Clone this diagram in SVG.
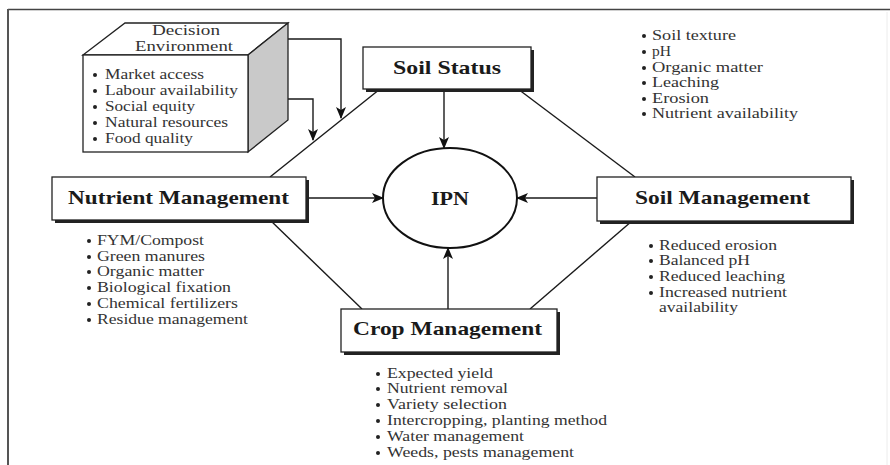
<svg xmlns="http://www.w3.org/2000/svg" width="890" height="465" viewBox="0 0 890 465">
<defs>
<marker id="arr" viewBox="0 0 12 10" refX="11" refY="5" markerWidth="12" markerHeight="10" markerUnits="userSpaceOnUse" orient="auto">
<path d="M0,0 L12,5 L0,10 L3,5 Z" fill="#111"/>
</marker>
</defs>
<style>
.ln{stroke:#1a1a1a;stroke-width:1.4;fill:none}
.box{fill:#fff;stroke:#222;stroke-width:1.3}
.sh{fill:#222}
.ttl{font-family:"Liberation Serif","Times New Roman",serif;font-weight:bold;font-size:19px;fill:#1a1a1a}
.li{font-family:"Liberation Serif","Times New Roman",serif;font-size:14px;fill:#333}
.hd{font-family:"Liberation Serif","Times New Roman",serif;font-size:15px;fill:#333}
.bu{fill:#222}
</style>
<rect width="890" height="465" fill="#fff"/>
<g id="frame">
<line x1="8" y1="9.5" x2="890" y2="9.5" stroke="#444" stroke-width="1.6"/>
<line x1="8" y1="9" x2="8" y2="465" stroke="#555" stroke-width="2"/>
<line x1="887" y1="12" x2="887" y2="465" stroke="#ececec" stroke-width="1"/>
</g>

<g id="connectors">
<line class="ln" x1="380" y1="89" x2="270" y2="177"/>
<line class="ln" x1="518" y1="89" x2="635" y2="177"/>
<line class="ln" x1="270" y1="220" x2="362" y2="309"/>
<line class="ln" x1="632" y1="221" x2="530" y2="309"/>
<line class="ln" x1="444" y1="89" x2="444" y2="148" marker-end="url(#arr)"/>
<line class="ln" x1="448" y1="309" x2="448" y2="248" marker-end="url(#arr)"/>
<line class="ln" x1="306" y1="198" x2="383" y2="198" marker-end="url(#arr)"/>
<line class="ln" x1="597" y1="198" x2="517" y2="198" marker-end="url(#arr)"/>
<path class="ln" d="M258,39 H341 V118" marker-end="url(#arr)"/>
<path class="ln" d="M232,99 H313 V140" marker-end="url(#arr)"/>
</g>

<g id="decision-environment">
<polygon points="83,55 125,23 288,23 248,55" fill="#fff" stroke="#222" stroke-width="1.3"/>
<polygon points="248,55 288,23 288,120 248,152" fill="#c9c9c9" stroke="#222" stroke-width="1.3"/>
<rect x="83" y="55" width="165" height="97" fill="#fff" stroke="#222" stroke-width="1.3"/>
<text class="hd" x="152" y="35" textLength="68" lengthAdjust="spacingAndGlyphs">Decision</text>
<text class="hd" x="135" y="51" textLength="98" lengthAdjust="spacingAndGlyphs">Environment</text>
<circle class="bu" cx="95" cy="75" r="2"/><text class="li" x="105" y="79" textLength="99" lengthAdjust="spacingAndGlyphs">Market access</text>
<circle class="bu" cx="95" cy="91" r="2"/><text class="li" x="105" y="95" textLength="133" lengthAdjust="spacingAndGlyphs">Labour availability</text>
<circle class="bu" cx="95" cy="107" r="2"/><text class="li" x="105" y="111" textLength="90" lengthAdjust="spacingAndGlyphs">Social equity</text>
<circle class="bu" cx="95" cy="123" r="2"/><text class="li" x="105" y="127" textLength="123" lengthAdjust="spacingAndGlyphs">Natural resources</text>
<circle class="bu" cx="95" cy="139" r="2"/><text class="li" x="105" y="143" textLength="88" lengthAdjust="spacingAndGlyphs">Food quality</text>
</g>

<g id="soil-status">
<rect class="sh" x="366" y="50" width="168" height="42"/>
<rect class="box" x="363" y="47" width="168" height="42"/>
<text class="ttl" x="393" y="74" textLength="108" lengthAdjust="spacingAndGlyphs">Soil Status</text>
</g>

<g id="soil-status-list">
<circle class="bu" cx="644" cy="36" r="2"/><text class="li" x="652" y="40" textLength="84" lengthAdjust="spacingAndGlyphs">Soil texture</text>
<circle class="bu" cx="644" cy="52" r="2"/><text class="li" x="652" y="56" textLength="19" lengthAdjust="spacingAndGlyphs">pH</text>
<circle class="bu" cx="644" cy="68" r="2"/><text class="li" x="652" y="72" textLength="111" lengthAdjust="spacingAndGlyphs">Organic matter</text>
<circle class="bu" cx="644" cy="83" r="2"/><text class="li" x="652" y="87" textLength="67" lengthAdjust="spacingAndGlyphs">Leaching</text>
<circle class="bu" cx="644" cy="99" r="2"/><text class="li" x="652" y="103" textLength="57" lengthAdjust="spacingAndGlyphs">Erosion</text>
<circle class="bu" cx="644" cy="114" r="2"/><text class="li" x="652" y="118" textLength="146" lengthAdjust="spacingAndGlyphs">Nutrient availability</text>
</g>

<g id="ipn">
<ellipse cx="450" cy="198" rx="67" ry="50" fill="#fff" stroke="#111" stroke-width="2"/>
<text class="ttl" x="450" y="205" text-anchor="middle" textLength="38" lengthAdjust="spacingAndGlyphs">IPN</text>
</g>

<g id="nutrient-management">
<rect class="sh" x="55" y="180" width="254" height="43"/>
<rect class="box" x="52" y="177" width="254" height="43"/>
<text class="ttl" x="68" y="204" textLength="221" lengthAdjust="spacingAndGlyphs">Nutrient Management</text>
</g>

<g id="nutrient-list">
<circle class="bu" cx="89" cy="241" r="2"/><text class="li" x="97" y="245" textLength="107" lengthAdjust="spacingAndGlyphs">FYM/Compost</text>
<circle class="bu" cx="89" cy="257" r="2"/><text class="li" x="97" y="261" textLength="108" lengthAdjust="spacingAndGlyphs">Green manures</text>
<circle class="bu" cx="89" cy="272" r="2"/><text class="li" x="97" y="276" textLength="107" lengthAdjust="spacingAndGlyphs">Organic matter</text>
<circle class="bu" cx="89" cy="288" r="2"/><text class="li" x="97" y="292" textLength="134" lengthAdjust="spacingAndGlyphs">Biological fixation</text>
<circle class="bu" cx="89" cy="304" r="2"/><text class="li" x="97" y="308" textLength="141" lengthAdjust="spacingAndGlyphs">Chemical fertilizers</text>
<circle class="bu" cx="89" cy="320" r="2"/><text class="li" x="97" y="324" textLength="151" lengthAdjust="spacingAndGlyphs">Residue management</text>
</g>

<g id="soil-management">
<rect class="sh" x="600" y="180" width="254" height="44"/>
<rect class="box" x="597" y="177" width="254" height="44"/>
<text class="ttl" x="635" y="204" textLength="175" lengthAdjust="spacingAndGlyphs">Soil Management</text>
</g>

<g id="soil-management-list">
<circle class="bu" cx="651" cy="246" r="2"/><text class="li" x="659" y="250" textLength="118" lengthAdjust="spacingAndGlyphs">Reduced erosion</text>
<circle class="bu" cx="651" cy="261" r="2"/><text class="li" x="659" y="265" textLength="91" lengthAdjust="spacingAndGlyphs">Balanced pH</text>
<circle class="bu" cx="651" cy="277" r="2"/><text class="li" x="659" y="281" textLength="126" lengthAdjust="spacingAndGlyphs">Reduced leaching</text>
<circle class="bu" cx="651" cy="293" r="2"/><text class="li" x="659" y="297" textLength="128" lengthAdjust="spacingAndGlyphs">Increased nutrient</text>
<text class="li" x="659" y="312" textLength="79" lengthAdjust="spacingAndGlyphs">availability</text>
</g>

<g id="crop-management">
<rect class="sh" x="344" y="312" width="216" height="43"/>
<rect class="box" x="341" y="309" width="216" height="43"/>
<text class="ttl" x="353" y="335" textLength="189" lengthAdjust="spacingAndGlyphs">Crop Management</text>
</g>

<g id="crop-list">
<circle class="bu" cx="378" cy="374" r="2"/><text class="li" x="387" y="378" textLength="106" lengthAdjust="spacingAndGlyphs">Expected yield</text>
<circle class="bu" cx="378" cy="389" r="2"/><text class="li" x="387" y="393" textLength="121" lengthAdjust="spacingAndGlyphs">Nutrient removal</text>
<circle class="bu" cx="378" cy="405" r="2"/><text class="li" x="387" y="409" textLength="120" lengthAdjust="spacingAndGlyphs">Variety selection</text>
<circle class="bu" cx="378" cy="421" r="2"/><text class="li" x="387" y="425" textLength="220" lengthAdjust="spacingAndGlyphs">Intercropping, planting method</text>
<circle class="bu" cx="378" cy="437" r="2"/><text class="li" x="387" y="441" textLength="137" lengthAdjust="spacingAndGlyphs">Water management</text>
<circle class="bu" cx="378" cy="453" r="2"/><text class="li" x="387" y="457" textLength="187" lengthAdjust="spacingAndGlyphs">Weeds, pests management</text>
</g>
</svg>
